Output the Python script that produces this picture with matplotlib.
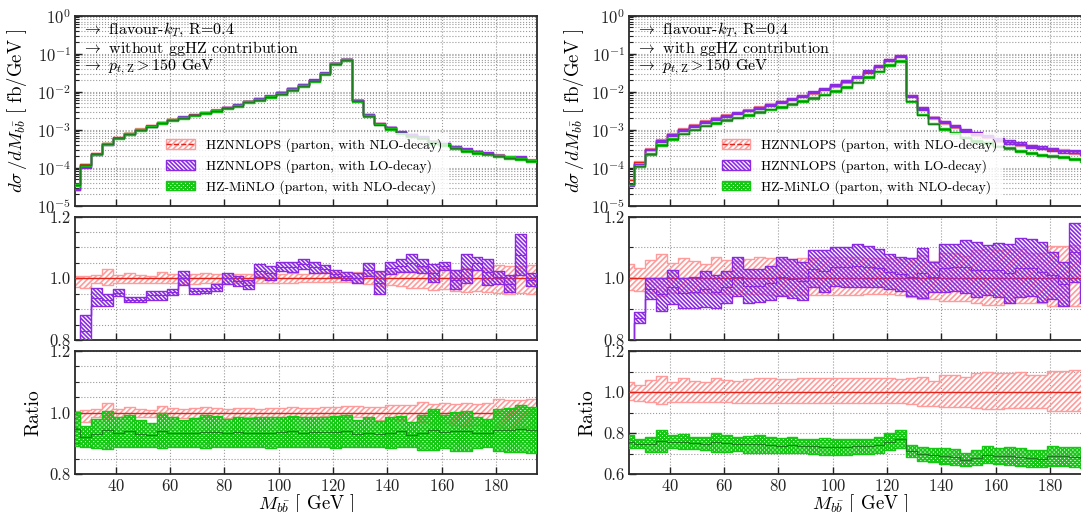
import numpy as np
import matplotlib
matplotlib.use("Agg")
import matplotlib.pyplot as plt
from matplotlib.patches import Patch
from matplotlib.lines import Line2D
from matplotlib.ticker import FixedLocator, FormatStrFormatter, MultipleLocator, LogLocator

# LaTeX-like look: Computer Modern text and math
plt.rcParams['font.family'] = 'serif'
plt.rcParams['font.serif'] = ['cmr10']
plt.rcParams['mathtext.fontset'] = 'cm'
plt.rcParams['axes.unicode_minus'] = False
plt.rcParams['axes.formatter.use_mathtext'] = True
plt.rcParams['hatch.linewidth'] = 1.2

# bin edges of M_bb [GeV], 4 GeV bins
bin_lo = 23
bin_hi = 195
bin_w = 4
edges = np.arange(bin_lo, bin_hi + bin_w, bin_w)

# ---------------- without ggHZ ----------------
# HZNNLOPS (NLO-decay) central value, dsigma/dM [fb/GeV]
noggHZ_nlo = [3.7e-5, 1.26e-4, 2.4e-4, 4.4e-4, 6.3e-4, 8.3e-4, 1.07e-3, 1.3e-3, 1.6e-3, 1.9e-3,
              2.2e-3, 2.55e-3, 2.9e-3, 3.4e-3, 3.9e-3, 4.6e-3, 5.7e-3, 6.5e-3, 7.8e-3, 9.5e-3,
              1.2e-2, 1.5e-2, 2.0e-2, 3.1e-2, 5.6e-2, 7.2e-2, 6.0e-3, 2.45e-3, 1.47e-3, 1.13e-3,
              8.5e-4, 7.2e-4, 6.3e-4, 4.9e-4, 4.2e-4, 3.6e-4, 3.0e-4, 2.65e-4, 2.4e-4, 2.15e-4,
              1.95e-4, 1.8e-4, 1.6e-4]
# scale band of HZNNLOPS NLO-decay, relative to its central value
noggHZ_nlo_hi = [1.006, 1.008, 1.012, 1.030, 1.010, 1.017, 1.012, 1.008, 1.020, 1.014,
                 1.010, 1.014, 1.017, 1.014, 1.010, 1.014, 1.015, 1.013, 1.016, 1.014,
                 1.017, 1.015, 1.016, 1.019, 1.019, 1.021, 1.021, 1.017, 1.019, 1.024,
                 1.024, 1.024, 1.035, 1.028, 1.032, 1.028, 1.032, 1.028, 1.032, 1.043,
                 1.041, 1.041, 1.043]
noggHZ_nlo_lo = [0.972, 0.970, 0.985, 0.978, 0.985, 0.984, 0.986, 0.985, 0.984, 0.985,
                 0.983, 0.983, 0.984, 0.984, 0.983, 0.984, 0.984, 0.985, 0.986, 0.986,
                 0.986, 0.987, 0.987, 0.988, 0.988, 0.988, 0.985, 0.982, 0.975, 0.978,
                 0.975, 0.970, 0.968, 0.962, 0.965, 0.958, 0.956, 0.960, 0.955, 0.952,
                 0.950, 0.952, 0.950]
# HZNNLOPS (LO-decay) / HZNNLOPS (NLO-decay)
noggHZ_lo = [0.72, 0.83, 0.935, 0.93, 0.953, 0.93, 0.931, 0.945, 0.945, 0.955,
             1.0, 0.96, 0.959, 0.97, 1.0, 0.991, 0.979, 1.024, 1.018, 1.038,
             1.037, 1.046, 1.035, 1.03, 1.015, 1.008, 1.001, 1.027, 0.986, 1.033,
             1.041, 1.05, 1.041, 1.017, 1.04, 0.995, 1.03, 1.048, 1.02, 1.003,
             0.983, 1.076, 0.995]
noggHZ_lo_hi = [0.74, 0.881, 0.967, 0.949, 0.964, 0.938, 0.940, 0.960, 0.960, 0.964,
                1.023, 0.970, 0.967, 0.981, 1.016, 1.007, 0.994, 1.045, 1.040, 1.053,
                1.053, 1.062, 1.053, 1.043, 1.026, 1.021, 1.016, 1.048, 1.024, 1.053,
                1.062, 1.080, 1.064, 1.046, 1.053, 1.026, 1.077, 1.070, 1.061, 1.024,
                1.010, 1.143, 1.016]
noggHZ_lo_lo = [0.70, 0.79, 0.910, 0.910, 0.943, 0.922, 0.922, 0.930, 0.930, 0.946,
                0.977, 0.949, 0.951, 0.958, 0.983, 0.975, 0.964, 1.003, 0.996, 1.024,
                1.021, 1.030, 1.018, 1.018, 1.005, 0.996, 0.986, 1.007, 0.949, 1.013,
                1.021, 1.021, 1.018, 0.989, 1.026, 0.964, 0.986, 1.026, 0.978, 0.983,
                0.956, 1.010, 0.975]
# HZ-MiNLO / HZNNLOPS (NLO-decay)
noggHZ_minlo = [0.947, 0.921, 0.93, 0.943, 0.935, 0.939, 0.931, 0.928, 0.94, 0.935,
                0.932, 0.934, 0.937, 0.938, 0.933, 0.936, 0.935, 0.935, 0.933, 0.936,
                0.939, 0.935, 0.936, 0.937, 0.936, 0.94, 0.931, 0.935, 0.931, 0.933,
                0.939, 0.928, 0.935, 0.944, 0.937, 0.94, 0.94, 0.933, 0.932, 0.943,
                0.943, 0.948, 0.944]
noggHZ_minlo_hi = [1.003, 0.956, 0.978, 1.006, 0.984, 0.991, 0.976, 0.967, 0.997, 0.984,
                   0.976, 0.981, 0.991, 0.989, 0.978, 0.986, 0.981, 0.984, 0.984, 0.986,
                   0.989, 0.984, 0.986, 0.986, 0.989, 0.992, 0.976, 0.984, 0.973, 0.984,
                   0.989, 0.970, 0.992, 1.011, 0.992, 1.003, 1.005, 0.984, 0.978, 1.010,
                   1.014, 1.024, 1.019]
noggHZ_minlo_lo = [0.891, 0.887, 0.883, 0.880, 0.887, 0.887, 0.887, 0.889, 0.883, 0.887,
                   0.889, 0.887, 0.883, 0.887, 0.889, 0.887, 0.889, 0.887, 0.883, 0.887,
                   0.889, 0.887, 0.887, 0.889, 0.883, 0.889, 0.887, 0.887, 0.889, 0.883,
                   0.889, 0.887, 0.878, 0.878, 0.883, 0.876, 0.876, 0.883, 0.887, 0.876,
                   0.873, 0.873, 0.869]

# ---------------- with ggHZ ----------------
ggHZ_nlo = [4.8e-5, 1.45e-4, 3.1e-4, 5.3e-4, 7.6e-4, 1.05e-3, 1.34e-3, 1.7e-3, 2.05e-3, 2.4e-3,
            2.8e-3, 3.3e-3, 3.9e-3, 4.6e-3, 5.4e-3, 6.4e-3, 7.7e-3, 9.4e-3, 1.15e-2, 1.45e-2,
            1.85e-2, 2.4e-2, 3.3e-2, 4.6e-2, 6.8e-2, 8.5e-2, 7.9e-3, 3.6e-3, 2.1e-3, 1.55e-3,
            1.2e-3, 9.3e-4, 7.6e-4, 6.6e-4, 5.3e-4, 4.7e-4, 4.1e-4, 3.6e-4, 3.3e-4, 3.0e-4,
            2.75e-4, 2.5e-4, 2.3e-4]
ggHZ_nlo_hi = [1.047, 1.034, 1.059, 1.078, 1.050, 1.067, 1.055, 1.047, 1.070, 1.059,
               1.055, 1.062, 1.070, 1.067, 1.062, 1.063, 1.067, 1.067, 1.070, 1.070,
               1.070, 1.070, 1.067, 1.067, 1.067, 1.063, 1.067, 1.075, 1.055, 1.083,
               1.083, 1.072, 1.091, 1.096, 1.091, 1.094, 1.096, 1.083, 1.083, 1.104,
               1.104, 1.107, 1.107]
ggHZ_nlo_lo = [0.961, 0.958, 0.953, 0.941, 0.953, 0.951, 0.951, 0.951, 0.950, 0.950,
               0.948, 0.948, 0.948, 0.946, 0.946, 0.945, 0.945, 0.945, 0.945, 0.945,
               0.945, 0.945, 0.948, 0.948, 0.948, 0.945, 0.940, 0.932, 0.932, 0.928,
               0.925, 0.925, 0.920, 0.915, 0.915, 0.920, 0.920, 0.920, 0.920, 0.909,
               0.909, 0.909, 0.909]
ggHZ_lo = [0.72, 0.872, 0.966, 0.948, 0.971, 0.953, 0.955, 0.965, 0.957, 0.971,
           1.005, 0.975, 0.976, 0.985, 1.004, 0.998, 0.991, 1.031, 1.022, 1.037,
           1.036, 1.04, 1.037, 1.032, 1.021, 1.015, 1.003, 1.016, 1.005, 1.034,
           1.035, 1.037, 1.028, 1.027, 1.026, 1.016, 1.034, 1.034, 1.021, 1.009,
           0.982, 1.084, 1.049]
ggHZ_lo_hi = [0.74, 0.890, 1.000, 1.002, 1.026, 1.002, 1.005, 1.022, 1.011, 1.024,
              1.070, 1.030, 1.029, 1.040, 1.068, 1.062, 1.052, 1.092, 1.090, 1.100,
              1.100, 1.110, 1.103, 1.094, 1.078, 1.070, 1.065, 1.097, 1.054, 1.111,
              1.111, 1.124, 1.119, 1.108, 1.114, 1.111, 1.130, 1.126, 1.119, 1.086,
              1.054, 1.180, 1.178]
ggHZ_lo_lo = [0.70, 0.854, 0.933, 0.894, 0.916, 0.905, 0.905, 0.908, 0.903, 0.919,
              0.941, 0.921, 0.924, 0.930, 0.941, 0.935, 0.930, 0.971, 0.955, 0.975,
              0.973, 0.971, 0.971, 0.971, 0.964, 0.960, 0.941, 0.935, 0.957, 0.957,
              0.960, 0.951, 0.938, 0.946, 0.938, 0.921, 0.938, 0.943, 0.924, 0.932,
              0.910, 0.989, 0.920]
ggHZ_minlo = [0.757, 0.747, 0.744, 0.762, 0.757, 0.757, 0.751, 0.748, 0.755, 0.75,
              0.748, 0.745, 0.746, 0.741, 0.739, 0.74, 0.736, 0.735, 0.733, 0.732,
              0.731, 0.735, 0.735, 0.741, 0.757, 0.77, 0.711, 0.697, 0.692, 0.687,
              0.682, 0.67, 0.68, 0.694, 0.687, 0.687, 0.682, 0.676, 0.675, 0.688,
              0.686, 0.681, 0.679]
ggHZ_minlo_hi = [0.790, 0.769, 0.782, 0.815, 0.790, 0.795, 0.782, 0.779, 0.802, 0.790,
                 0.782, 0.785, 0.789, 0.782, 0.777, 0.779, 0.772, 0.772, 0.774, 0.771,
                 0.769, 0.772, 0.772, 0.782, 0.798, 0.815, 0.741, 0.730, 0.725, 0.725,
                 0.720, 0.701, 0.717, 0.737, 0.725, 0.730, 0.725, 0.717, 0.717, 0.737,
                 0.733, 0.730, 0.730]
ggHZ_minlo_lo = [0.725, 0.725, 0.706, 0.709, 0.725, 0.720, 0.720, 0.717, 0.709, 0.709,
                 0.714, 0.704, 0.704, 0.701, 0.701, 0.701, 0.701, 0.698, 0.693, 0.693,
                 0.693, 0.698, 0.698, 0.701, 0.717, 0.725, 0.681, 0.665, 0.660, 0.649,
                 0.644, 0.639, 0.644, 0.652, 0.649, 0.644, 0.639, 0.636, 0.633, 0.639,
                 0.639, 0.633, 0.628]

labels = ['HZNNLOPS (parton, with NLO-decay)',
          'HZNNLOPS (parton, with LO-decay)',
          'HZ-MiNLO (parton, with NLO-decay)']
info_left = [r'$\rightarrow$ flavour-$k_T$, R=0.4',
             r'$\rightarrow$ without ggHZ contribution',
             r'$\rightarrow$ $p_{t,\mathrm{Z}} > 150$ GeV']
info_right = [r'$\rightarrow$ flavour-$k_T$, R=0.4',
              r'$\rightarrow$ with ggHZ contribution',
              r'$\rightarrow$ $p_{t,\mathrm{Z}} > 150$ GeV']

RED, RED_BAND = '#e2231a', '#ff9b9b'
PURPLE = '#8a2be2'
GREEN, GREEN_LINE = '#14c814', '#1e7d1e'
H_RED, H_PURPLE, H_GREEN = '//////', '\\' * 8, 'x' * 8
GRID = dict(color='#9a9a9a', linestyle=':', linewidth=0.8)


def ext(v):
    # repeat last value so step='post' covers the last bin
    v = np.asarray(v, dtype=float)
    return np.append(v, v[-1])


def band(ax, lo, hi, color, hatch, lw=1.0, zorder=2):
    ax.fill_between(edges, ext(lo), ext(hi), step='post', facecolor='none',
                    edgecolor=color, hatch=hatch, linewidth=lw, zorder=zorder)


def style(ax):
    ax.set_xlim(25, 195)
    ax.xaxis.set_major_locator(MultipleLocator(20))
    ax.tick_params(which='both', direction='in', labelsize=12, colors='#222222', pad=3)
    ax.tick_params(which='major', length=5, width=1.0)
    ax.tick_params(which='minor', length=3, width=0.8)
    ax.grid(True, which='both', **GRID)
    ax.set_axisbelow(True)
    for s in ax.spines.values():
        s.set_linewidth(1.3)
        s.set_color('#2a2a2a')


def column(x0, nlo, nlo_lo, nlo_hi, lo, lo_lo, lo_hi, mi, mi_lo, mi_hi,
           info, r2_lim, r_minor, legend_x, ylab_x, rlab_x):
    w = 0.4272
    nlo = np.asarray(nlo)
    ax0 = fig.add_axes([x0, 0.5982, w, 0.3711])
    ax1 = fig.add_axes([x0, 0.3359, w, 0.2412])
    ax2 = fig.add_axes([x0, 0.0742, w, 0.2402])

    # main panel: absolute distributions
    ax0.set_yscale('log')
    band(ax0, nlo * np.asarray(nlo_lo), nlo * np.asarray(nlo_hi), RED_BAND, H_RED, zorder=2)
    ax0.step(edges, ext(nlo), where='post', color=RED, lw=1.0, zorder=3)
    band(ax0, nlo * np.asarray(lo_lo), nlo * np.asarray(lo_hi), PURPLE, H_PURPLE, zorder=4)
    ax0.step(edges, ext(nlo * np.asarray(lo)), where='post', color=PURPLE, lw=1.0, zorder=4)
    band(ax0, nlo * np.asarray(mi_lo), nlo * np.asarray(mi_hi), GREEN, H_GREEN, zorder=5)
    ax0.step(edges, ext(nlo * np.asarray(mi)), where='post', color=GREEN_LINE, lw=1.0, zorder=6)
    ax0.set_ylim(1e-5, 1)
    ax0.yaxis.set_major_locator(LogLocator(base=10, numticks=10))
    ax0.yaxis.set_minor_locator(LogLocator(base=10, subs=np.arange(2, 10), numticks=20))
    style(ax0)
    ax0.xaxis.set_minor_locator(FixedLocator([]))
    ax0.grid(False, axis='x', which='minor')
    ax0.tick_params(labelbottom=False)
    ax0.set_ylabel(r'$d\sigma\,/dM_{b\bar{b}}$ [ fb/GeV ]', fontsize=13.5)
    ax0.yaxis.set_label_coords(ylab_x, 0.5)
    for i, t in enumerate(info):
        ax0.text(0.015, 0.925 - 0.098 * i, t, transform=ax0.transAxes,
                 fontsize=11.5, ha='left', va='center', zorder=8)

    h_nlo = (Patch(facecolor='none', edgecolor=RED_BAND, hatch=H_RED, lw=1.0),
             Line2D([], [], color=RED, lw=1.0, ls='--'))
    h_lo = Patch(facecolor='none', edgecolor=PURPLE, hatch=H_PURPLE, lw=1.0)
    h_mi = Patch(facecolor='none', edgecolor=GREEN, hatch=H_GREEN, lw=1.0)
    leg = ax0.legend([h_nlo, h_lo, h_mi], labels, loc='lower left',
                     bbox_to_anchor=(legend_x, 0.035), borderaxespad=0, fontsize=9.8,
                     frameon=True, framealpha=0.8, edgecolor='none', fancybox=False,
                     handlelength=2.1, handleheight=0.75, handletextpad=0.8,
                     labelspacing=0.5, borderpad=0.4)
    leg.set_zorder(7)

    # ratio 1: LO-decay vs NLO-decay
    band(ax1, nlo_lo, nlo_hi, RED_BAND, H_RED, zorder=2)
    ax1.axhline(1.0, color=RED, lw=1.0, zorder=3)
    band(ax1, lo_lo, lo_hi, PURPLE, H_PURPLE, zorder=4)
    ax1.step(edges, ext(lo), where='post', color=PURPLE, lw=0.8, zorder=4)
    ax1.set_ylim(0.8, 1.2)
    ax1.yaxis.set_major_locator(FixedLocator([0.8, 1.0, 1.2]))
    ax1.yaxis.set_minor_locator(MultipleLocator(r_minor))
    ax1.yaxis.set_major_formatter(FormatStrFormatter('%.1f'))
    style(ax1)
    ax1.grid(False, axis='x', which='minor')
    ax1.tick_params(labelbottom=False)

    # ratio 2: MiNLO vs NNLOPS
    band(ax2, nlo_lo, nlo_hi, RED_BAND, H_RED, zorder=2)
    ax2.axhline(1.0, color=RED, lw=1.0, zorder=3)
    band(ax2, mi_lo, mi_hi, GREEN, H_GREEN, zorder=4)
    ax2.step(edges, ext(mi), where='post', color=GREEN_LINE, lw=0.8, zorder=5)
    ax2.set_ylim(*r2_lim)
    ax2.yaxis.set_major_locator(MultipleLocator(0.2))
    ax2.yaxis.set_minor_locator(MultipleLocator(r_minor))
    ax2.yaxis.set_major_formatter(FormatStrFormatter('%.1f'))
    style(ax2)
    ax2.grid(False, axis='x', which='minor')
    ax2.set_ylabel('Ratio', fontsize=14)
    ax2.yaxis.set_label_coords(rlab_x, 0.5)
    ax2.set_xlabel(r'$M_{b\bar{b}}$ [ GeV ]', fontsize=13.5)
    ax2.xaxis.set_label_coords(0.5, -0.148)


fig = plt.figure(figsize=(10.81, 5.12), dpi=100)

column(0.0694, noggHZ_nlo, noggHZ_nlo_lo, noggHZ_nlo_hi,
       noggHZ_lo, noggHZ_lo_lo, noggHZ_lo_hi,
       noggHZ_minlo, noggHZ_minlo_lo, noggHZ_minlo_hi,
       info_left, (0.8, 1.2), 0.05, 0.186, -0.100, -0.070)
column(0.5819, ggHZ_nlo, ggHZ_nlo_lo, ggHZ_nlo_hi,
       ggHZ_lo, ggHZ_lo_lo, ggHZ_lo_hi,
       ggHZ_minlo, ggHZ_minlo_lo, ggHZ_minlo_hi,
       info_right, (0.6, 1.2), 0.1, 0.189, -0.093, -0.071)

fig.savefig('out.png', dpi=100)
